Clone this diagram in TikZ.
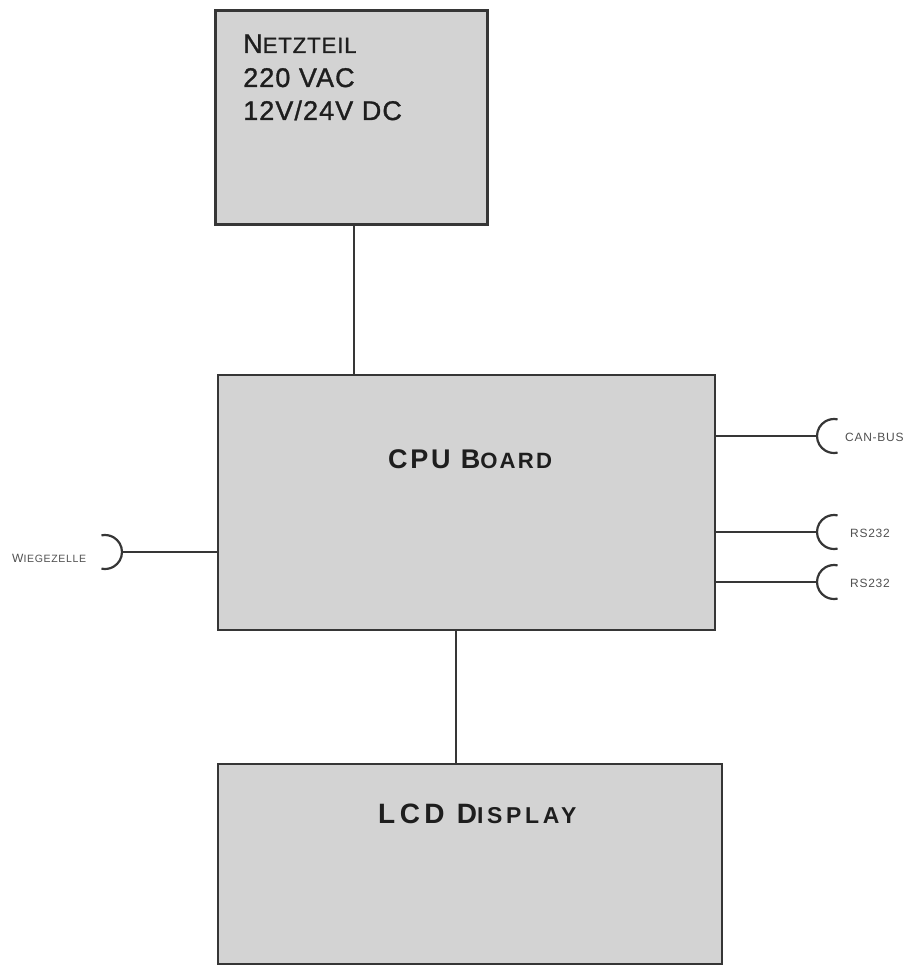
\documentclass[tikz,border=0pt]{standalone}
\usepackage{fontspec}
\setmainfont{Liberation Sans}
\newfontfamily\cadfont[LetterSpace=4, FakeBold=1.2]{Liberation Sans}
\newfontfamily\cadbold[LetterSpace=10]{Liberation Sans Bold}
\newfontfamily\cadwide[LetterSpace=16]{Liberation Sans Bold}
\newfontfamily\cadtiny[LetterSpace=6]{Liberation Sans}
% reduced capitals for the small-caps look of the labels
\newcommand\lowcap[1]{\scalebox{0.82}{#1}}
\definecolor{boxfill}{HTML}{D3D3D3}
\definecolor{edge}{HTML}{363636}
\definecolor{ink}{HTML}{1E1E1E}
\definecolor{tiny}{HTML}{505050}
\tikzset{
  block/.style={draw=edge, line width=2.2pt, fill=boxfill, inner sep=0pt, outer sep=0pt},
  wire/.style={draw=edge, line width=2.2pt},
  jack/.style={draw=edge, line width=2.2pt},
  boxtext/.style={anchor=base west, inner sep=0pt, text=ink, font=\cadfont\fontsize{27}{30}\selectfont},
  titletext/.style={anchor=base west, inner sep=0pt, text=ink, font=\cadbold\fontsize{27}{30}\selectfont},
  widetitle/.style={anchor=base west, inner sep=0pt, text=ink, font=\cadwide\fontsize{28}{30}\selectfont},
  portlabel/.style={anchor=base west, inner sep=0pt, text=tiny, font=\cadtiny\fontsize{12}{13}\selectfont}
}
\begin{document}
\begin{tikzpicture}[x=1pt, y=-1pt]
\useasboundingbox (0,0) rectangle (915,965);

% blocks
\node[block, minimum width=272pt, minimum height=214pt] (psu) at (351.5,117.5) {};
\node[block, minimum width=497pt, minimum height=255pt] (cpu) at (466.5,502.5) {};
\node[block, minimum width=504pt, minimum height=200pt] (lcd) at (470,864) {};

% block texts
\node[boxtext] (psuA) at (243,53) {N\lowcap{ETZTEIL}};
\node[boxtext] (psuB) at (243,87) {220 VAC};
\node[boxtext] (psuC) at (243,120) {12V/24V DC};
\node[titletext] (cpuT) at (388,468) {CPU B\lowcap{OARD}};
\node[widetitle] (lcdT) at (378,823) {LCD D\lowcap{ISPLAY}};

% links between blocks
\draw[wire] ([xshift=2.5pt]psu.south) -- ([xshift=2.5pt]psu.south |- cpu.north);
\draw[wire] ([xshift=-10.5pt]cpu.south) -- ([xshift=-10.5pt]cpu.south |- lcd.north);

% connector jacks
\coordinate (canjack) at (817,436);
\coordinate (rsjackA) at (817,532);
\coordinate (rsjackB) at (817,582);
\coordinate (loadjack) at (122,552);

\draw[wire] (cpu.east |- canjack) -- (canjack);
\draw[wire] (cpu.east |- rsjackA) -- (rsjackA);
\draw[wire] (cpu.east |- rsjackB) -- (rsjackB);
\draw[wire] (cpu.west |- loadjack) -- (loadjack);

\foreach \j in {canjack, rsjackA, rsjackB}{
  \draw[jack] (\j) arc[start angle=180, end angle=78, radius=17];
  \draw[jack] (\j) arc[start angle=180, end angle=282, radius=17];
}
\draw[jack] (loadjack) arc[start angle=0, end angle=102, radius=17];
\draw[jack] (loadjack) arc[start angle=0, end angle=-102, radius=17];

% port labels
\node[portlabel] (canL) at (845,441) {CAN-BUS};
\node[portlabel] (rsL1) at (850,537) {RS232};
\node[portlabel] (rsL2) at (850,587) {RS232};
\node[portlabel] (loadL) at (12,562) {W\scalebox{0.88}{IEGEZELLE}};
\end{tikzpicture}
\end{document}
